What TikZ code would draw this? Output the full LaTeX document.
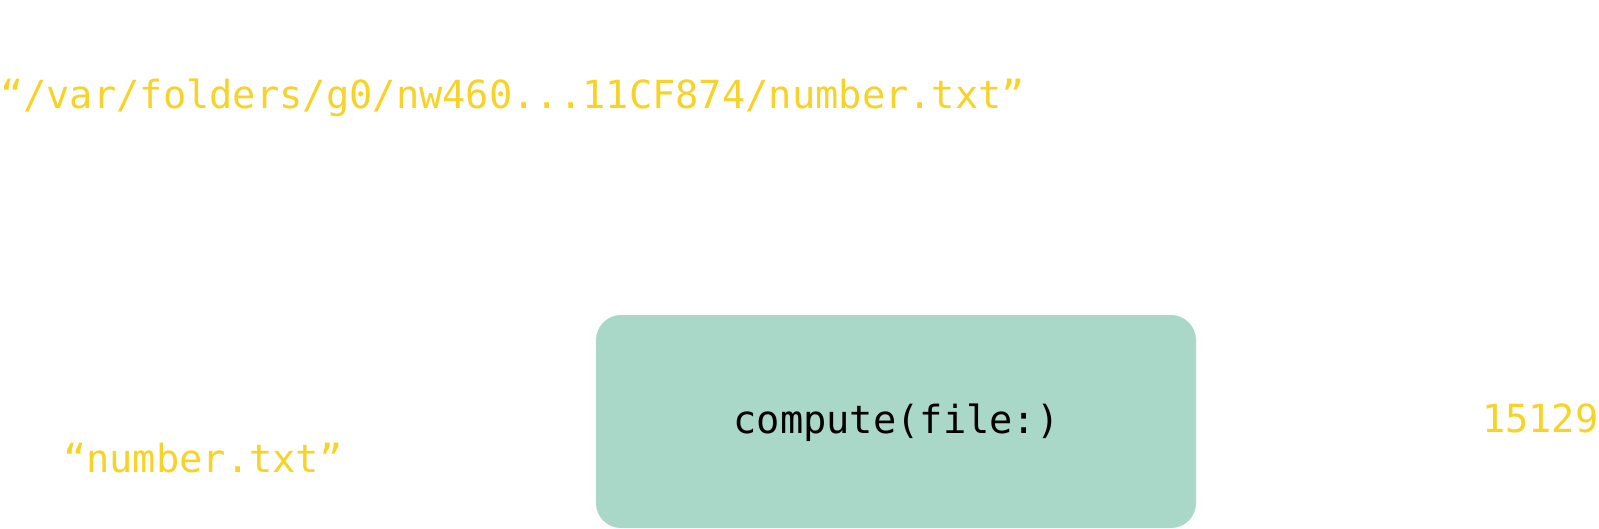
\documentclass[tikz,border=0pt]{standalone}
\usepackage{fontspec}
\setmonofont{DejaVu Sans Mono}
\definecolor{codeyellow}{RGB}{246,211,38}
\definecolor{boxteal}{RGB}{169,216,200}
\tikzset{
  codetext/.style={font=\ttfamily\fontsize{38.7}{46}\selectfont, inner sep=0pt, outer sep=0pt},
  yellowtext/.style={codetext, text=codeyellow},
  funcbox/.style={fill=boxteal, rounded corners=25pt, minimum width=600pt, minimum height=213pt, inner sep=0pt, draw=none}
}
\begin{document}
\begin{tikzpicture}[x=1pt,y=-1pt]
\useasboundingbox (0,0) rectangle (1599,528);
\node[yellowtext, anchor=base west] (path) at (0,108) {“/var/folders/g0/nw460...11CF874/number.txt”};
\node[funcbox] (box) at (896,421.5) {};
\node[codetext, text=black, anchor=base] (lbl) at (896.5,433) {compute(file:)};
\node[yellowtext, anchor=base west] (name) at (63,472) {“number.txt”};
\node[yellowtext, anchor=base west] (result) at (1482,432) {15129};
\end{tikzpicture}
\end{document}
